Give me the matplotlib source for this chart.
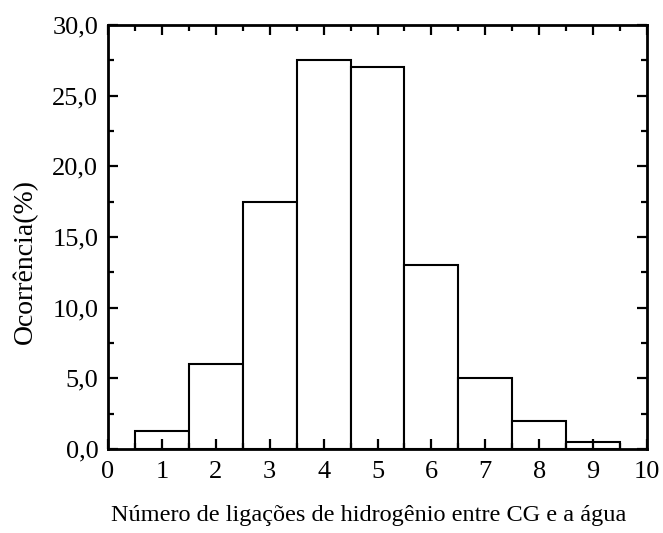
import matplotlib
matplotlib.use("Agg")
import matplotlib.pyplot as plt
from matplotlib.ticker import MultipleLocator, FuncFormatter

# Hydrogen-bond counts and their occurrence (%)
n_bonds = [1, 2, 3, 4, 5, 6, 7, 8, 9]
occurrence = [1.3, 6.0, 17.5, 27.5, 27.0, 13.0, 5.0, 2.0, 0.5]
x_ticks = [0, 1, 2, 3, 4, 5, 6, 7, 8, 9, 10]
y_ticks = [0, 5, 10, 15, 20, 25, 30]

plt.rcParams['font.family'] = ['Liberation Serif', 'DejaVu Serif']

W, H = 663, 533
fig = plt.figure(figsize=(W / 100, H / 100), dpi=100)
ax = fig.add_axes([108 / W, 1 - 449 / H, (647 - 108) / W, (449 - 25) / H])

ax.bar(n_bonds, occurrence, width=1.0, color='white', edgecolor='black', linewidth=1.5)

ax.set_xlim(0, 10)
ax.set_ylim(0, 30)
ax.set_xticks(x_ticks)
ax.set_yticks(y_ticks)
ax.xaxis.set_minor_locator(MultipleLocator(0.5))
ax.yaxis.set_minor_locator(MultipleLocator(2.5))
ax.yaxis.set_major_formatter(FuncFormatter(lambda v, p: f"{v:.1f}".replace('.', ',')))

ax.tick_params(which='both', direction='in', top=True, right=True, width=1.6,
               labelsize=19, colors='black')
ax.tick_params(which='major', length=7)
ax.tick_params(which='minor', length=4)
ax.tick_params(axis='x', which='major', pad=9)
ax.tick_params(axis='y', which='major', pad=7)
for s in ax.spines.values():
    s.set_linewidth(2.0)

fig.text(369 / W, 1 - 515 / H, "Número de ligações de hidrogênio entre CG e a água",
         fontsize=17.5, ha='center', va='center')
fig.text(25 / W, 1 - 262 / H, "Ocorrência(%)", fontsize=20, rotation=90,
         ha='center', va='center')

fig.savefig("out.png", dpi=100)
